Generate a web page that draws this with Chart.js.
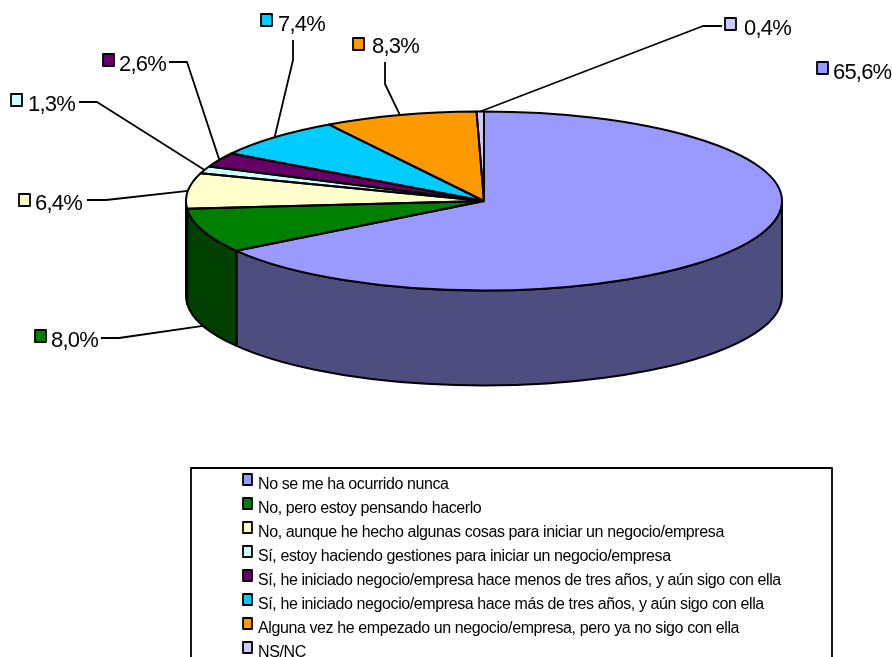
<!DOCTYPE html>
<html><head><meta charset="utf-8">
<style>html,body{margin:0;padding:0;background:#fff;overflow:hidden}canvas{display:block}</style>
<script src="https://cdn.jsdelivr.net/npm/chart.js@4"></script>
</head><body><canvas id="c" width="892" height="657"></canvas>
<script>
const categories = [
 "No se me ha ocurrido nunca",
 "No, pero estoy pensando hacerlo",
 "No, aunque he hecho algunas cosas para iniciar un negocio/empresa",
 "Sí, estoy haciendo gestiones para iniciar un negocio/empresa",
 "Sí, he iniciado negocio/empresa hace menos de tres años, y aún sigo con ella",
 "Sí, he iniciado negocio/empresa hace más de tres años, y aún sigo con ella",
 "Alguna vez he empezado un negocio/empresa, pero ya no sigo con ella",
 "NS/NC"];
const values = [65.6, 8.0, 6.4, 1.3, 2.6, 7.4, 8.3, 0.4];
const valueLabels = ["65,6%","8,0%","6,4%","1,3%","2,6%","7,4%","8,3%","0,4%"];
const topColors = ["#9999FF","#008000","#FFFFCC","#CCFFFF","#660066","#00CCFF","#FF9900","#CCCCFF"];
const sideColors = ["#4D4D80","#004000","#808066","#668080","#330033","#006680","#804D00","#666680"];

// layout of the value labels: marker left/top, text x/baseline, leader points (the slice anchor is computed)
const labelLayout = [
 {bx:817,by:62, tx:833,ty:79, leader:null},
 {bx:35, by:330,tx:51, ty:347,leader:[[101,338],[119,338]],side:true},
 {bx:19, by:194,tx:35, ty:210,leader:[[87,200],[106,200]]},
 {bx:11, by:94, tx:28, ty:111,leader:[[79,102],[97,102]]},
 {bx:103,by:54, tx:119,ty:71, leader:[[169,62],[187,62]]},
 {bx:261,by:14, tx:278,ty:31, leader:[[293,40],[293,60]]},
 {bx:353,by:38, tx:372,ty:53, leader:[[385,62],[385,84]]},
 {bx:725,by:18, tx:744,ty:35, leader:[[722,26],[703,26]]}
];
const CY = 201, RADIUS = 298, RY = 89.5, DEPTH = 95;
const SANS = '"Liberation Sans", Arial, sans-serif';

function toScreen(arc, a){ return [arc.x + RADIUS*Math.cos(a), CY + RY*Math.sin(a)]; }
function ellipsePath(ctx, arc, dy, a0, a1, ccw){ ctx.ellipse(arc.x, CY+dy, RADIUS, RY, 0, a0, a1, !!ccw); }

const pie3d = {
 id:'pie3d',
 beforeDatasetDraw(chart){
  const ctx = chart.ctx, arcs = chart.getDatasetMeta(0).data;
  // side wall of the slices on the front half
  ctx.save();
  ctx.strokeStyle='#000'; ctx.lineWidth=2; ctx.lineJoin='round';
  arcs.forEach((arc,i)=>{
    const s = arc.startAngle, e = arc.endAngle;
    if (e <= 0 || s >= Math.PI) return;
    const a0 = Math.max(s,0), a1 = Math.min(e,Math.PI);
    ctx.beginPath();
    ellipsePath(ctx, arc, 0, a0, a1);
    ellipsePath(ctx, arc, DEPTH, a1, a0, true);
    ctx.closePath();
    ctx.fillStyle = sideColors[i];
    ctx.fill(); ctx.stroke();
  });
  ctx.restore();
  // the library draws the slices inside a flattened coordinate system
  const a = arcs[0];
  ctx.save();
  ctx.translate(0, CY);
  ctx.scale(1, RY/RADIUS);
  ctx.translate(0, -a.y);
 },
 afterDatasetDraw(chart){
  const ctx = chart.ctx, arcs = chart.getDatasetMeta(0).data;
  ctx.restore();
  ctx.save();
  ctx.strokeStyle='#000'; ctx.lineWidth=2; ctx.lineJoin='round';
  arcs.forEach(arc=>{
    ctx.beginPath();
    ctx.moveTo(arc.x, CY);
    ellipsePath(ctx, arc, 0, arc.startAngle, arc.endAngle);
    ctx.closePath();
    ctx.stroke();
  });
  ctx.restore();
 },
 afterDraw(chart){
  const ctx = chart.ctx, arcs = chart.getDatasetMeta(0).data;
  ctx.save();
  // leaders
  ctx.strokeStyle='#000'; ctx.lineWidth=1.8; ctx.lineJoin='round';
  labelLayout.forEach((l,i)=>{
    if(!l.leader) return;
    const arc = arcs[i], mid=(arc.startAngle+arc.endAngle)/2;
    const p = toScreen(arc, mid);
    ctx.beginPath();
    ctx.moveTo(l.leader[0][0], l.leader[0][1]);
    ctx.lineTo(l.leader[1][0], l.leader[1][1]);
    ctx.lineTo(p[0], p[1] + (l.side?DEPTH:0));
    ctx.stroke();
  });
  // value labels
  ctx.textBaseline='alphabetic'; ctx.textAlign='left';
  ctx.font='22px '+SANS; ctx.letterSpacing='-0.8px';
  labelLayout.forEach((l,i)=>{
    ctx.fillStyle=topColors[i]; ctx.fillRect(l.bx,l.by,11,12);
    ctx.strokeStyle='#000'; ctx.lineWidth=1.8; ctx.strokeRect(l.bx,l.by,11,12);
    ctx.fillStyle='#000'; ctx.fillText(valueLabels[i], l.tx, l.ty);
  });
  // legend box, running off the bottom of the picture
  ctx.strokeStyle='#000'; ctx.lineWidth=1.8;
  ctx.strokeRect(191,468,641,240);
  ctx.font='16px '+SANS; ctx.letterSpacing='-0.4px';
  categories.forEach((t,i)=>{
    const y = 489 + i*24;
    ctx.fillStyle=topColors[i]; ctx.fillRect(243,y-15,9,11);
    ctx.strokeStyle='#000'; ctx.lineWidth=1.8; ctx.strokeRect(243,y-15,9,11);
    ctx.fillStyle='#000'; ctx.fillText(t,258,y);
  });
  ctx.restore();
 }
};

new Chart(document.getElementById('c'),{
 type:'pie',
 data:{labels:categories,datasets:[{data:values,backgroundColor:topColors,borderWidth:0,clip:false}]},
 options:{
  responsive:false,animation:false,devicePixelRatio:1,
  radius:RADIUS,
  layout:{padding:{left:76}},
  plugins:{legend:{display:false},tooltip:{enabled:false},title:{display:false}}
 },
 plugins:[pie3d]
});
</script></body></html>
